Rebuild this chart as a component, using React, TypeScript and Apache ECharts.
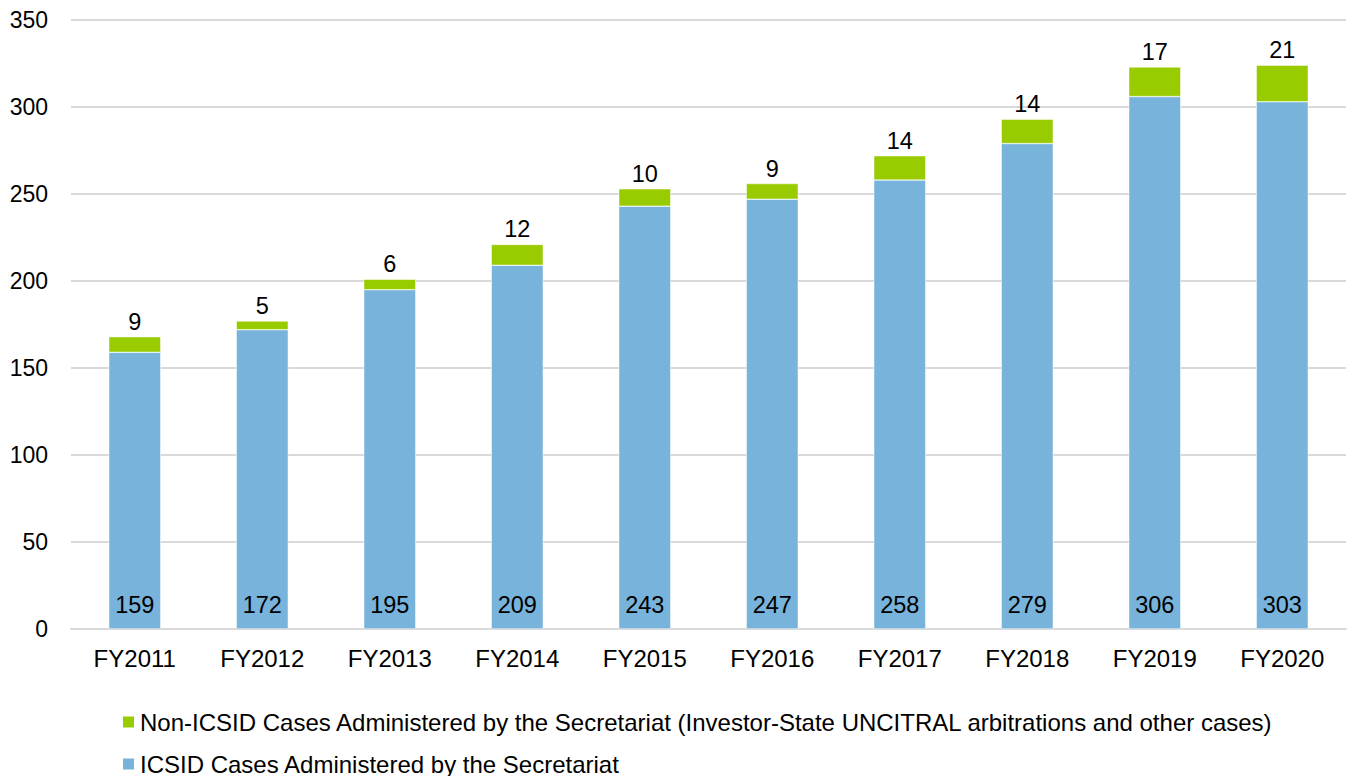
import React, { useEffect, useRef } from "react";
import * as echarts from "echarts";

const categories = ["FY2011", "FY2012", "FY2013", "FY2014", "FY2015", "FY2016", "FY2017", "FY2018", "FY2019", "FY2020"];
const icsidCases = [159, 172, 195, 209, 243, 247, 258, 279, 306, 303];
const nonIcsidCases = [9, 5, 6, 12, 10, 9, 14, 14, 17, 21];
const icsidName = "ICSID Cases Administered by the Secretariat";
const nonIcsidName = "Non-ICSID Cases Administered by the Secretariat (Investor-State UNCITRAL arbitrations and other cases)";

export default function App() {
  const ref = useRef<HTMLDivElement>(null);
  useEffect(() => {
    document.body.style.margin = "0";
    const chart = echarts.init(ref.current!, null, { renderer: "svg" });
    const font = "Arial, 'Liberation Sans', sans-serif";
    const legendBase = {
      orient: "horizontal",
      left: 121,
      itemWidth: 13,
      itemHeight: 13,
      padding: 0,
      icon: "rect",
      textStyle: { fontSize: 24, color: "#000", fontFamily: font },
    };
    chart.setOption({
      animation: false,
      textStyle: { fontFamily: font },
      grid: { left: 71, right: 5, top: 20, bottom: 147, containLabel: false },
      legend: [
        { ...legendBase, top: 710, data: [nonIcsidName] },
        { ...legendBase, top: 752, data: [icsidName] },
      ],
      xAxis: {
        type: "category",
        data: categories,
        axisLine: { lineStyle: { color: "#d9d9d9", width: 2 } },
        axisTick: { show: false },
        axisLabel: { fontSize: 24, color: "#000", margin: 17, fontFamily: font },
      },
      yAxis: {
        type: "value",
        min: 0,
        max: 350,
        interval: 50,
        axisLine: { show: false },
        axisTick: { show: false },
        splitLine: { lineStyle: { color: "#d9d9d9", width: 2 } },
        axisLabel: { fontSize: 23, color: "#000", margin: 23, fontFamily: font },
      },
      series: [
        {
          name: icsidName,
          type: "bar",
          stack: "total",
          data: icsidCases,
          barWidth: 52,
          itemStyle: { color: "#77b3da", borderColor: "#ffffff", borderWidth: 0.5 },
          label: {
            show: true,
            position: "insideBottom",
            distance: 12,
            fontSize: 23.5,
            color: "#000",
            fontFamily: font,
          },
        },
        {
          name: nonIcsidName,
          type: "bar",
          stack: "total",
          data: nonIcsidCases,
          barWidth: 52,
          itemStyle: { color: "#99cc00", borderColor: "#ffffff", borderWidth: 0.5 },
          label: {
            show: true,
            position: "top",
            distance: 3,
            fontSize: 23.5,
            color: "#000",
            fontFamily: font,
          },
        },
      ],
    });
    return () => chart.dispose();
  }, []);
  return <div ref={ref} style={{ width: 1351, height: 776 }} />;
}
